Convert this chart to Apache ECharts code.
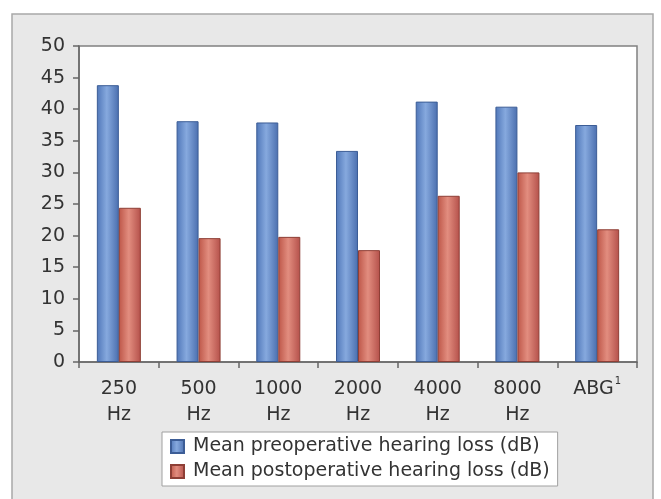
<!DOCTYPE html>
<html>
<head>
<meta charset="utf-8">
<script src="https://cdn.jsdelivr.net/npm/echarts@6/dist/echarts.min.js"></script>
<style>html,body{margin:0;padding:0;background:#fff}#c{width:661px;height:499px}</style>
</head>
<body>
<div id="c"></div>
<script>
const categories = ['250 Hz', '500 Hz', '1000 Hz', '2000 Hz', '4000 Hz', '8000 Hz', 'ABG'];
const preopValues = [43.8, 38.1, 37.9, 33.4, 41.2, 40.4, 37.5];
const postopValues = [24.4, 19.6, 19.8, 17.7, 26.3, 30.0, 21.0];
const seriesNames = ['Mean preoperative hearing loss (dB)', 'Mean postoperative hearing loss (dB)'];
const yTicks = { min: 0, max: 50, interval: 5 };

const FONT = 'DejaVu Sans';
function grad(l, c, r) {
  return new echarts.graphic.LinearGradient(0, 0, 1, 0, [
    { offset: 0, color: l }, { offset: 0.45, color: c }, { offset: 1, color: r }
  ]);
}
const chart = echarts.init(document.getElementById('c'), null, { renderer: 'canvas' });
chart.setOption({
  animation: false,
  backgroundColor: '#fff',
  graphic: [{
    type: 'rect', z: -10, silent: true,
    shape: { x: 12, y: 14, width: 641, height: 495 },
    style: { fill: '#e8e8e8', stroke: '#a8a8a8', lineWidth: 1.5 }
  }],
  grid: {
    left: 79, top: 46, right: 24, bottom: 137,
    show: true, backgroundColor: '#fff', borderColor: '#808080', borderWidth: 1.5
  },
  legend: {
    orient: 'vertical', left: 162, top: 432,
    backgroundColor: '#fff', borderColor: '#a0a0a0', borderWidth: 1,
    padding: [5, 8, 5, 8], itemGap: 6,
    itemWidth: 13, itemHeight: 13, icon: 'rect',
    textStyle: { fontFamily: FONT, fontSize: 19, color: '#333', padding: [0, 0, 0, 4] },
    data: seriesNames
  },
  xAxis: {
    type: 'category', data: categories,
    axisLine: { lineStyle: { color: '#666', width: 1.5 } },
    axisTick: { show: true, interval: 0, length: 6, lineStyle: { color: '#666', width: 1.5 } },
    axisLabel: {
      interval: 0,
      fontFamily: FONT, fontSize: 19, color: '#333', margin: 14, lineHeight: 26,
      formatter: function (v) {
        if (v === 'ABG') return '{a|ABG}{s|1}';
        return v.replace(' ', '\n');
      },
      rich: {
        a: { fontFamily: FONT, fontSize: 19, color: '#333', lineHeight: 26 },
        s: { fontFamily: FONT, fontSize: 10, color: '#333', verticalAlign: 'top', padding: [0, 0, 10, 1] }
      }
    }
  },
  yAxis: {
    type: 'value', min: yTicks.min, max: yTicks.max, interval: yTicks.interval,
    splitLine: { show: false },
    axisLine: { show: true, lineStyle: { color: '#666', width: 1.5 } },
    axisTick: { show: true, length: 6, lineStyle: { color: '#666', width: 1.5 } },
    axisLabel: { fontFamily: FONT, fontSize: 19, color: '#333', margin: 14 }
  },
  series: [{
    name: seriesNames[0], type: 'bar', data: preopValues,
    barWidth: 22, barGap: '0%',
    itemStyle: { color: grad('#4f76b8', '#86a9de', '#4a6eae'), borderColor: '#3c5d96', borderWidth: 1 }
  }, {
    name: seriesNames[1], type: 'bar', data: postopValues,
    barWidth: 22,
    itemStyle: { color: grad('#bd5648', '#e28d7f', '#b4504a'), borderColor: '#8e3f36', borderWidth: 1 }
  }]
});
</script>
</body>
</html>
